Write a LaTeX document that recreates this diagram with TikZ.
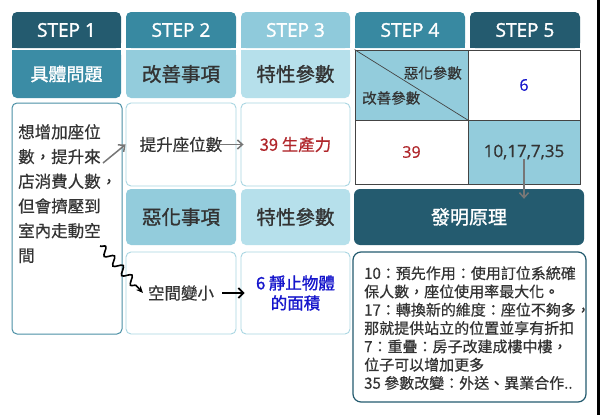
\documentclass[tikz,border=0pt]{standalone}
\usepackage{fontspec}
\setmainfont{Noto Sans CJK TC}[Script=CJK,Language=Chinese Traditional,FakeBold=0.5]
\newfontfamily\cjkhead{Noto Sans CJK TC}[Script=CJK,Language=Chinese Traditional,FakeBold=1.3]
\newfontfamily\latinf{Open Sans}[FakeBold=0.5]
\newfontfamily\latinb{Open Sans}[FakeBold=1.6]
\usetikzlibrary{arrows.meta,decorations.pathmorphing}
\definecolor{dteal}{HTML}{245B6F}
\definecolor{mteal}{HTML}{3889A1}
\definecolor{cteal}{HTML}{3B8CA5}
\definecolor{hblue}{HTML}{8FCADB}
\definecolor{lblue}{HTML}{93CCDC}
\definecolor{llblue}{HTML}{B6E0EB}
\definecolor{pborder}{HTML}{A9D6E2}
\definecolor{lborder}{HTML}{4A8FA5}
\definecolor{txtgray}{HTML}{333333}
\definecolor{redt}{HTML}{B0262B}
\definecolor{bluet}{HTML}{1616CC}
\definecolor{arrgray}{HTML}{767676}
\definecolor{tabline}{HTML}{444444}
\newcommand\topfill[5]{\fill[#5,rounded corners=5pt] (#1,#2) rectangle (#3,#4);
  \fill[#5] (#1,{(#2+#4)/2}) rectangle (#3,#4);}
\newcommand\botfill[5]{\fill[#5,rounded corners=5pt] (#1,#2) rectangle (#3,#4);
  \fill[#5] (#1,#2) rectangle (#3,{(#2+#4)/2});}
\begin{document}
\begin{tikzpicture}[x=1pt,y=-1pt,
  steptxt/.style={text=white,font=\latinb\fontsize{19}{22}\selectfont,inner sep=0pt},
  headtxt/.style={text=txtgray,font=\cjkhead\fontsize{19.5}{22}\selectfont,inner sep=0pt},
  panel/.style={draw=pborder,line width=0.9pt,fill=white,rounded corners=5pt,inner sep=0pt},
  catbox/.style={rounded corners=5pt,inner sep=0pt,text=txtgray,font=\cjkhead\fontsize{19.5}{22}\selectfont},
  cell/.style={draw=tabline,line width=0.9pt,inner sep=0pt},
  body/.style={text=txtgray,font=\fontsize{16.5}{20}\selectfont},
  garrow/.style={draw=arrgray,line width=1.5pt,-{Straight Barb[length=5pt,width=9pt]}},
  barrow/.style={draw=black,line width=1.8pt,-{Straight Barb[length=5pt,width=10pt]}}]
\useasboundingbox (0,0) rectangle (600,415);
\fill[white] (0,0) rectangle (600,415);
\fill[black] (596.5,0) rectangle (600,415);

% header row
\topfill{12}{12}{121}{48}{dteal}
\topfill{126}{12}{236}{48}{mteal}
\topfill{241}{12}{350}{48}{hblue}
\topfill{355}{12}{465}{48}{mteal}
\topfill{470}{12}{580}{48}{dteal}
\botfill{12}{50}{121}{98}{cteal}
\botfill{126}{50}{236}{98}{lblue}
\botfill{241}{50}{350}{98}{llblue}
\node[steptxt] (s1) at (66.5,30) {STEP 1};
\node[steptxt] (s2) at (181,30) {STEP 2};
\node[steptxt] (s3) at (295.5,30) {STEP 3};
\node[steptxt] (s4) at (410,30) {STEP 4};
\node[steptxt] (s5) at (525,30) {STEP 5};
\node[headtxt,text=white,font=\cjkhead\fontsize{18}{20}\selectfont] (h1) at (66.5,74) {具體問題};
\node[headtxt] (h2) at (181,74) {改善事項};
\node[headtxt] (h3) at (295.5,74) {特性參數};

% matrix table
\node[cell,fill=lblue,minimum width=113pt,minimum height=70pt] (t11) at (411.5,85) {};
\node[cell,fill=white,minimum width=112pt,minimum height=70pt,text=bluet,font=\latinf\fontsize{16}{18}\selectfont] (t12) at (524,85) {6};
\node[cell,fill=white,minimum width=113pt,minimum height=64pt,text=redt,font=\latinf\fontsize{16}{18}\selectfont] (t21) at (411.5,152) {39};
\node[cell,fill=lblue,minimum width=112pt,minimum height=64pt,text=txtgray,font=\latinf\fontsize{17}{20}\selectfont] (t22) at (524,152) {10,17,7,35};
\draw[tabline,line width=0.7pt] (t11.north west) -- (t11.south east);
\node[text=txtgray,font=\fontsize{14.5}{16}\selectfont,anchor=east,inner sep=0pt] (worse) at (462,73) {惡化參數};
\node[text=txtgray,font=\fontsize{14.5}{16}\selectfont,anchor=west,inner sep=0pt] (improve) at (362,98) {改善參數};

% left problem box
\node[draw=lborder,line width=1pt,fill=white,rounded corners=5pt,minimum width=110pt,minimum height=231pt] (lb) at (67,218.5) {};
\node[body,anchor=north west,inner sep=0pt,align=left,font=\fontsize{16.5}{24.7}\selectfont] (lt) at (18,124)
  {想增加座位\\數，提升來\\店消費人數，\\但會擠壓到\\室內走動空\\間};

% panels
\node[panel,minimum width=110pt,minimum height=83pt,body] (b2) at (181,144.5) {提升座位數};
\node[panel,minimum width=109pt,minimum height=83pt,body,text=redt] (b3) at (295.5,144.5) {39 生產力};
\node[catbox,fill=lblue,minimum width=110pt,minimum height=56pt] (c2) at (181,217) {惡化事項};
\node[catbox,fill=llblue,minimum width=109pt,minimum height=56pt] (c3) at (295.5,217) {特性參數};
\node[panel,minimum width=110pt,minimum height=82pt,body] (b2b) at (181,293) {空間變小};
\node[panel,minimum width=109pt,minimum height=82pt,body,text=bluet,align=center,font=\cjkhead\fontsize{16.5}{20}\selectfont] (b3b) at (295.5,293) {6 靜止物體\\的面積};

% invention principles
\node[fill=dteal,rounded corners=6pt,minimum width=230pt,minimum height=56pt,text=white,font=\cjkhead\fontsize{19}{22}\selectfont] (inv) at (469,217) {發明原理};
\node[draw=dteal,line width=1.2pt,fill=white,rounded corners=8pt,minimum width=233pt,minimum height=150pt] (pr) at (469.5,327) {};
\node[anchor=north west,inner sep=0pt,align=left,text=txtgray,font=\fontsize{15}{18.3}\selectfont] (pt) at (364,266)
  {10：預先作用：使用訂位系統確\\保人數，座位使用率最大化。\\17：轉換新的維度：座位不夠多，\\那就提供站立的位置並享有折扣\\7：重疊：房子改建成樓中樓，\\位子可以增加更多\\35 參數改變：外送、異業合作..};

% connectors
\coordinate (a1s) at (103,163);
\draw[garrow] (a1s) -- (b2.west);
\draw[garrow] ([xshift=-23pt]b2.east) -- ([xshift=3pt]b3.west);
\coordinate (a2s) at (100,246);
\draw[black,line width=1.6pt,decorate,decoration={snake,segment length=13pt,amplitude=4pt,post length=6pt},-{Stealth[length=7pt,width=6pt]}] (a2s) -- ([xshift=-2pt]b2b.center -| 145,0);
\draw[barrow] ([xshift=-14pt]b2b.east) -- ([xshift=4pt]b3b.west);
\draw[garrow] ([yshift=-7pt]t22.center) -- ([yshift=-10pt]inv.north -| t22.center);
\end{tikzpicture}
\end{document}
